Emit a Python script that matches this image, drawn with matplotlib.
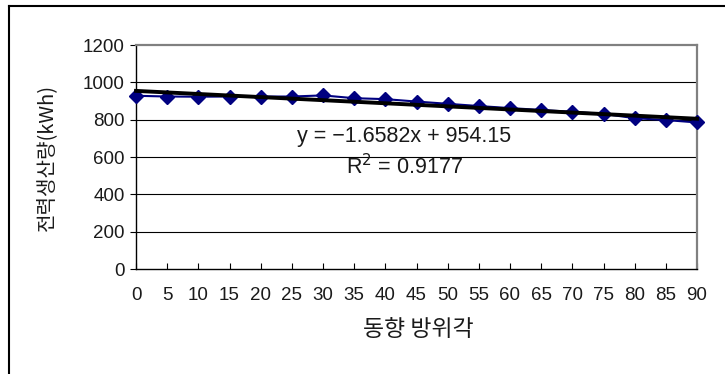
import matplotlib
matplotlib.use("Agg")
import matplotlib.pyplot as plt
import numpy as np
from matplotlib.lines import Line2D

plt.rcParams['font.family'] = ['Liberation Sans', 'Noto Sans CJK KR', 'DejaVu Sans']

angles = [0, 5, 10, 15, 20, 25, 30, 35, 40, 45, 50, 55, 60, 65, 70, 75, 80, 85, 90]
energy = [928, 924, 923, 924, 924, 924, 930, 915, 910, 897, 885, 873, 862, 852, 842, 831, 808, 798, 785]
slope = -1.6582
intercept = 954.15
r2 = 0.9177
y_ticks = [0, 200, 400, 600, 800, 1000, 1200]
xlabel = "동향 방위각"
ylabel = "전력생산량(kWh)"

fig = plt.figure(figsize=(7.25, 3.74), dpi=100)
ax = fig.add_axes([136/725, 1-269/374, (697-136)/725, (269-45)/374])

ax.set_xlim(0, 90)
ax.set_ylim(0, 1200)
for yt in y_ticks[1:-1]:
    ax.axhline(yt, color='black', lw=0.8, zorder=1)

ax.plot(angles, energy, color='#000080', lw=1.5, marker='D', markersize=7,
        markerfacecolor='#000080', markeredgecolor='#000080', zorder=3, clip_on=False)
xs = np.array([angles[0], angles[-1]])
ax.plot(xs, slope*xs + intercept, color='black', lw=2.8, zorder=4, clip_on=False)

ax.set_xticks(angles)
ax.set_xticklabels([str(a) for a in angles])
ax.set_yticks(y_ticks)
ax.tick_params(axis='x', direction='in', length=4, width=0.8, labelsize=13.5, pad=13,
               colors='black', labelcolor='#1a1a1a')
ax.tick_params(axis='y', direction='out', length=4, width=0.8, labelsize=13.5, pad=4,
               labelcolor='#1a1a1a')

for s in ['top', 'right']:
    ax.spines[s].set_color('#808080')
    ax.spines[s].set_linewidth(1.6)
for s in ['left', 'bottom']:
    ax.spines[s].set_color('black')
    ax.spines[s].set_linewidth(1.0)

ax.text(0.478, 0.59, "y = \u22121.6582x + 954.15", transform=ax.transAxes,
        ha='center', va='center', fontsize=15.5, color='#1a1a1a')
ax.text(0.478, 0.455, "R$^{2}$ = 0.9177", transform=ax.transAxes,
        ha='center', va='center', fontsize=15.5, color='#1a1a1a')

fig.text(418/725, 1-330/374, xlabel, ha='center', va='center', fontsize=16.5,
         color='#1a1a1a', family=['Noto Sans CJK KR', 'DejaVu Sans'])
fig.text(47/725, 1-157/374, ylabel, ha='center', va='center', fontsize=14.5,
         color='#1a1a1a', rotation=90, family=['Noto Sans CJK KR', 'DejaVu Sans'])

# outer chart border (left and top visible)
fig.add_artist(Line2D([9/725, 9/725], [0, 1-6/374], transform=fig.transFigure, color='black', lw=1.5))
fig.add_artist(Line2D([9/725, 1], [1-6/374, 1-6/374], transform=fig.transFigure, color='black', lw=1.5))

fig.savefig("out.png", dpi=100)
